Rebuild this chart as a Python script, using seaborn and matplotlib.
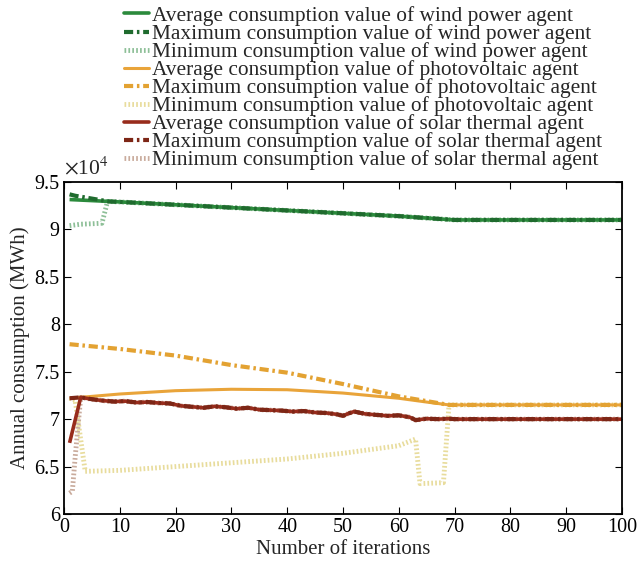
import numpy as np
import pandas as pd
import matplotlib
matplotlib.use("Agg")
import matplotlib.pyplot as plt
import seaborn as sns
from matplotlib.ticker import FuncFormatter, MultipleLocator
from matplotlib.lines import Line2D

# ---------------- data (MWh) ----------------
wind_avg_x = [1, 10, 20, 30, 40, 50, 60, 70, 80, 90, 100]
wind_avg_y = [93150, 92900, 92600, 92300, 92000, 91700, 91400, 91000, 91000, 91000, 91000]

wind_max_x = [1, 2, 4, 6, 8, 10, 20, 30, 40, 50, 60, 70, 80, 90, 100]
wind_max_y = [93700, 93550, 93350, 93150, 92950, 92900, 92600, 92300, 92000, 91700, 91400, 91000, 91000, 91000, 91000]

wind_min_x = [1, 3, 5, 6.8, 7.8, 10, 20, 30, 40, 50, 60, 70, 80, 90, 100]
wind_min_y = [90400, 90550, 90600, 90650, 92950, 92900, 92600, 92300, 92000, 91700, 91400, 91000, 91000, 91000, 91000]

pv_avg_x = [1, 5, 10, 20, 30, 40, 50, 60, 65, 69, 70, 80, 90, 100]
pv_avg_y = [72200, 72400, 72650, 73000, 73150, 73100, 72750, 72200, 71800, 71500, 71500, 71500, 71500, 71500]

pv_max_x = [1, 10, 20, 30, 40, 50, 60, 69, 70, 80, 90, 100]
pv_max_y = [77900, 77400, 76700, 75700, 74900, 73700, 72400, 71500, 71500, 71500, 71500, 71500]

pv_min_x = [1, 2, 3.8, 10, 20, 30, 40, 50, 60, 63, 63.8, 68, 69, 70, 80, 90, 100]
pv_min_y = [72200, 72000, 64500, 64600, 65000, 65400, 65800, 66400, 67200, 67900, 63200, 63300, 71500, 71500, 71500, 71500, 71500]

st_avg_x = [1, 3, 5, 7, 9, 11, 13, 15, 17, 19, 21, 23, 25, 27, 29, 31, 33, 35, 37, 39,
            41, 43, 45, 47, 49, 50, 51, 52, 54, 56, 58, 60, 62, 63, 65, 67, 69, 70, 80, 90, 100]
st_avg_y = [67500, 72300, 72100, 71950, 71850, 71900, 71750, 71800, 71700, 71650, 71400, 71300,
            71200, 71350, 71250, 71100, 71200, 71000, 70950, 70900, 70800, 70850, 70700, 70650,
            70500, 70350, 70600, 70800, 70550, 70450, 70350, 70400, 70200, 69900, 70050, 70000,
            70050, 70000, 70000, 70000, 70000]

st_max_x = [1, 3, 5, 7, 9, 11, 13, 15, 17, 19, 21, 23, 25, 27, 29, 31, 33, 35, 37, 39,
            41, 43, 45, 47, 49, 50, 51, 52, 54, 56, 58, 60, 62, 63, 65, 67, 69, 70, 80, 90, 100]
st_max_y = [72200] + st_avg_y[1:]

st_min_x = [1, 1.5, 2, 3, 5, 7, 9, 11, 13, 15, 17, 19, 21, 23, 25, 27, 29, 31, 33, 35, 37, 39,
            41, 43, 45, 47, 49, 50, 51, 52, 54, 56, 58, 60, 62, 63, 65, 67, 69, 70, 80, 90, 100]
st_min_y = [62200, 62400, 66000] + st_avg_y[1:]

labels = [
    "Average consumption value of wind power agent",
    "Maximum consumption value of wind power agent",
    "Minimum consumption value of wind power agent",
    "Average consumption value of photovoltaic agent",
    "Maximum consumption value of photovoltaic agent",
    "Minimum consumption value of photovoltaic agent",
    "Average consumption value of solar thermal agent",
    "Maximum consumption value of solar thermal agent",
    "Minimum consumption value of solar thermal agent",
]

# ---------------- style ----------------
sns.set_style("ticks")
plt.rcParams["font.family"] = ["Liberation Serif", "DejaVu Serif"]
plt.rcParams["mathtext.fontset"] = "stix"

fig = plt.figure(figsize=(6.37, 5.66), dpi=100)
ax = fig.add_axes([64 / 637, 1 - 514 / 566, (622 - 64) / 637, (514 - 182) / 566])

dashdot = (0, (2.2, 0.9, 0.6, 0.9))
dotted = (0, (0.35, 0.45))

series = [
    (wind_avg_x, wind_avg_y, "#2b8a3c", "-", 2.6),
    (wind_max_x, wind_max_y, "#1f6b2e", dashdot, 3.0),
    (wind_min_x, wind_min_y, "#8dbf97", dotted, 3.5),
    (pv_avg_x, pv_avg_y, "#e9a43a", "-", 2.2),
    (pv_max_x, pv_max_y, "#e3a232", dashdot, 3.0),
    (pv_min_x, pv_min_y, "#e8dc9c", dotted, 3.5),
    (st_avg_x, st_avg_y, "#982c1c", "-", 2.6),
    (st_max_x, st_max_y, "#7d2616", dashdot, 3.0),
    (st_min_x, st_min_y, "#c9ab9c", dotted, 3.5),
]

order = [2, 5, 8, 0, 3, 6, 1, 4, 7]
for i in order:
    xs, ys, c, ls, lw = series[i]
    df = pd.DataFrame({"x": xs, "y": ys})
    sns.lineplot(data=df, x="x", y="y", ax=ax, color=c, linewidth=lw, sort=False,
                 estimator=None, legend=False)
    line = ax.lines[-1]
    line.set_linestyle(ls)
    line.set_dash_capstyle("butt")
    line.set_solid_capstyle("butt")

handles = []
for xs, ys, c, ls, lw in series:
    handles.append(Line2D([], [], color=c, linestyle=ls, linewidth=lw, dash_capstyle="butt"))

ax.set_xlim(0, 100)
ax.set_ylim(60000, 95000)
ax.xaxis.set_major_locator(MultipleLocator(10))
ax.yaxis.set_major_locator(MultipleLocator(5000))
ax.yaxis.set_major_formatter(FuncFormatter(lambda v, p: "%g" % (v / 1e4)))

ax.tick_params(direction="in", length=5, width=0.8, top=True, right=True,
               labelsize=14.5, pad=3, colors="black")
for s in ax.spines.values():
    s.set_linewidth(1.3)
    s.set_color("black")

ax.set_xlabel("Number of iterations", fontsize=15, labelpad=2)
ax.set_ylabel("Annual consumption (MWh)", fontsize=15, labelpad=3)

ax.text(0.0, 1.008, r"$\times$10$^{4}$", transform=ax.transAxes, fontsize=15.5,
        ha="left", va="bottom")

fig.legend(handles, labels, loc="upper left", bbox_to_anchor=(124 / 637, 1 - 6 / 566),
           frameon=False, fontsize=15.4, handlelength=1.17, handletextpad=0.14,
           labelspacing=-0.09, borderpad=0, borderaxespad=0)

fig.savefig("out.png", dpi=100)
